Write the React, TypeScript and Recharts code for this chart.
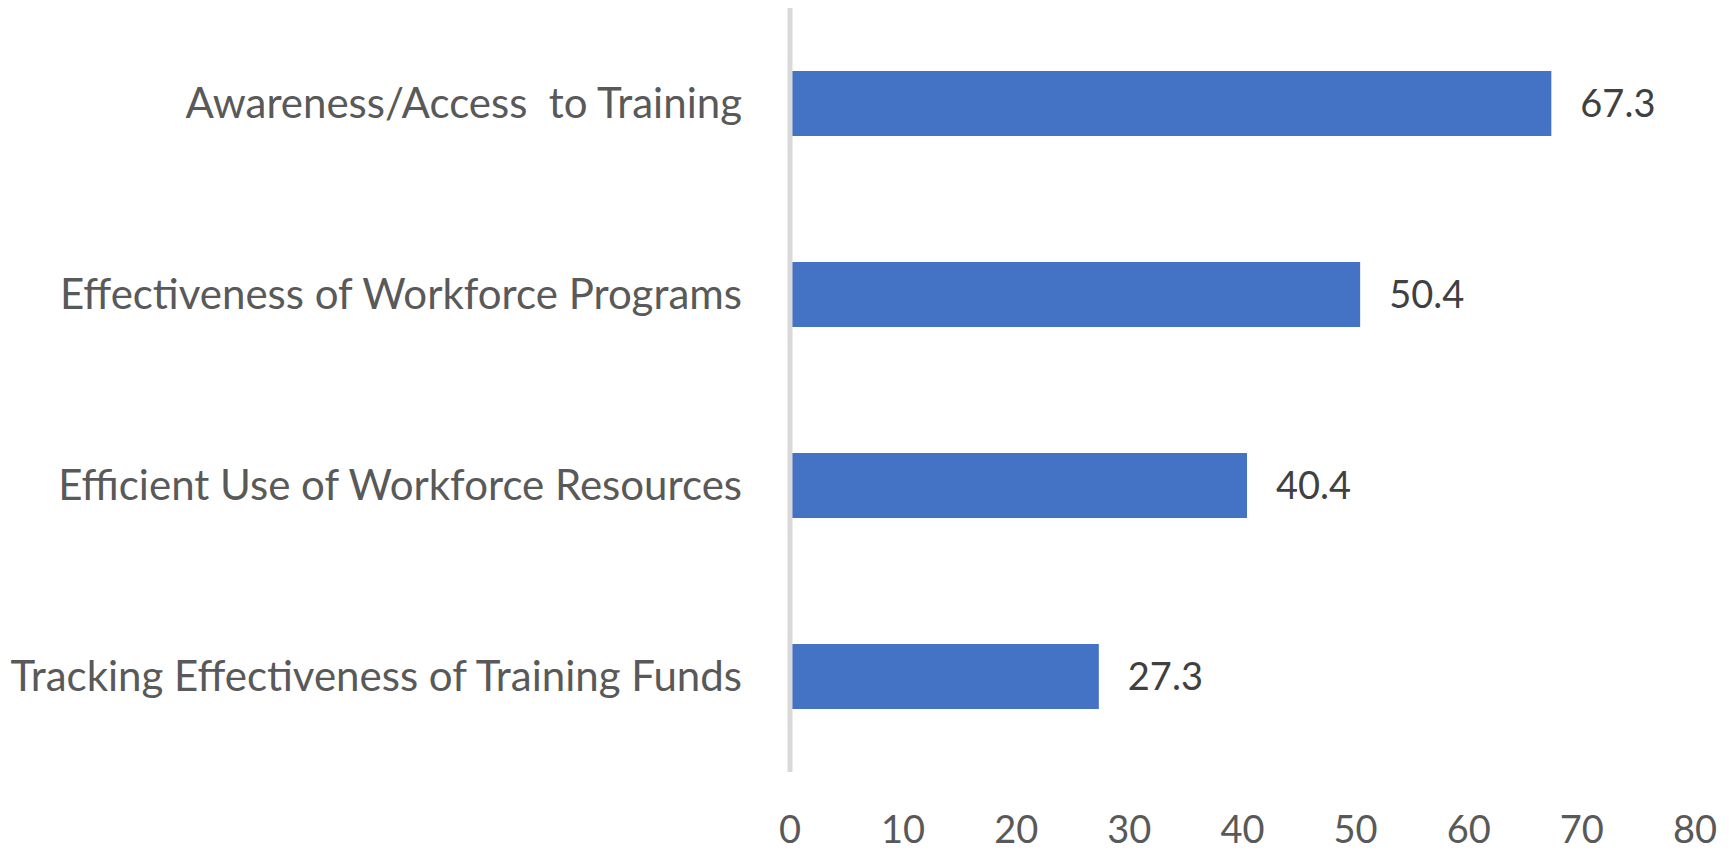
import { BarChart, Bar, XAxis, YAxis, LabelList } from 'recharts';

// Données
const CATEGORIES = [
  'Awareness/Access\u00A0 to Training',
  'Effectiveness of Workforce Programs',
  'Efficient Use of Workforce Resources',
  'Tracking Effectiveness of Training Funds',
];
const VALUES = [67.3, 50.4, 40.4, 27.3];
const X_TICKS = [0, 10, 20, 30, 40, 50, 60, 70, 80];

const FONT = 'Lato, "Open Sans", sans-serif';
const BAR_COLOR = '#4472C4';

export default function App() {
  const data = CATEGORIES.map((name, i) => ({ name, value: VALUES[i] }));

  return (
    <div style={{ position: 'absolute', left: 0, top: 0, fontFamily: FONT }}>
      <BarChart
        width={1730}
        height={854}
        data={data}
        layout="vertical"
        margin={{ top: 8, right: 35, left: 0, bottom: 0 }}
        barCategoryGap="33%"
      >
        <XAxis
          type="number"
          domain={[0, 80]}
          ticks={X_TICKS}
          axisLine={false}
          tickLine={false}
          tickSize={0}
          tickMargin={44}
          height={82}
          tick={{ fontSize: 38, fill: '#595959', fontFamily: FONT }}
        />
        <YAxis
          type="category"
          dataKey="name"
          width={790}
          tickLine={false}
          tickSize={0}
          tickMargin={48}
          axisLine={{ stroke: '#d9d9d9', strokeWidth: 5 }}
          tick={{ fontSize: 42, fill: '#595959', fontFamily: FONT }}
        />
        <Bar dataKey="value" fill={BAR_COLOR} isAnimationActive={false}>
          <LabelList
            dataKey="value"
            position="right"
            offset={29}
            fill="#404040"
            fontSize={38}
            fontFamily={FONT}
          />
        </Bar>
      </BarChart>
    </div>
  );
}
